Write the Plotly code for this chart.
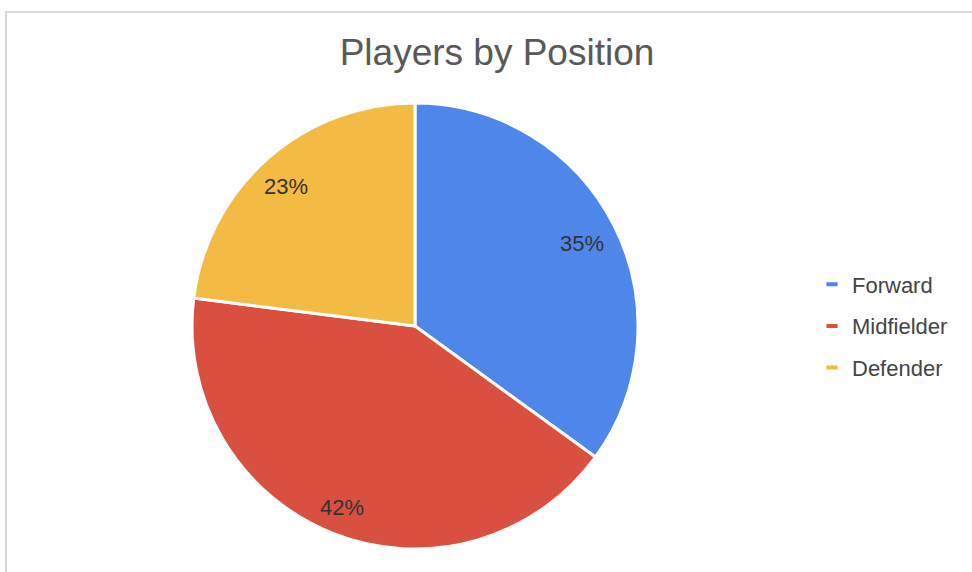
import math
import plotly.graph_objects as go

positions = ["Forward", "Midfielder", "Defender"]
players = [35, 42, 23]
colors = ["#4e86ea", "#d95040", "#f3bb43"]

W, H = 972, 572
cx, cy, r = 415, 326, 223  # pixel layout of the pie

dom_x = [(cx - r) / W, (cx + r) / W]
dom_y = [1 - (cy + r) / H, 1 - (cy - r) / H]

FONT = "Liberation Sans, Arial"

fig = go.Figure()
fig.add_trace(go.Pie(
    labels=positions,
    values=players,
    sort=False,
    direction="clockwise",
    rotation=0,
    marker=dict(colors=colors, line=dict(color="white", width=3)),
    textinfo="none",
    hoverinfo="label+percent",
    domain=dict(x=dom_x, y=dom_y),
    showlegend=False,
))

# legend entries (one group each so the spacing can be set)
for name, col in zip(positions, colors):
    fig.add_trace(go.Scatter(
        x=[None], y=[None], mode="markers", name=name, legendgroup=name,
        marker=dict(symbol="line-ew", size=8, color=col,
                    line=dict(color=col, width=4)),
        showlegend=True, hoverinfo="skip",
    ))

# percentage labels placed at each slice's mid-angle
total = sum(players)
cum = 0
for v in players:
    mid = (cum + v / 2) / total * 2 * math.pi
    cum += v
    px = cx - 3 + 0.855 * r * math.sin(mid)
    py = cy + 4 - 0.855 * r * math.cos(mid)
    fig.add_annotation(
        x=px / W, y=1 - py / H, xref="paper", yref="paper",
        text=f"{round(v / total * 100)}%", showarrow=False,
        font=dict(family=FONT, size=22, color="#333333"),
        xanchor="center", yanchor="middle",
    )

fig.add_shape(type="rect", xref="paper", yref="paper",
              x0=6 / W, x1=1.2, y0=-0.2, y1=1 - 12 / H,
              line=dict(color="#d9d9d9", width=2), layer="below")

fig.update_layout(
    width=W, height=H,
    margin=dict(l=0, r=0, t=0, b=0),
    paper_bgcolor="white",
    plot_bgcolor="white",
    font=dict(family=FONT, color="#444444"),
    xaxis=dict(visible=False),
    yaxis=dict(visible=False),
    title=dict(text="Players by Position", x=497 / W, xanchor="center",
               y=1 - 52 / H, yanchor="middle", yref="container",
               font=dict(size=37, color="#595959")),
    showlegend=True,
    legend=dict(x=812 / W, xanchor="left", y=1 - 326 / H, yanchor="middle",
                font=dict(size=22, color="#444444"),
                bgcolor="rgba(0,0,0,0)", itemwidth=30, tracegroupgap=10,
                traceorder="grouped"),
)

fig.write_html("out.html")
